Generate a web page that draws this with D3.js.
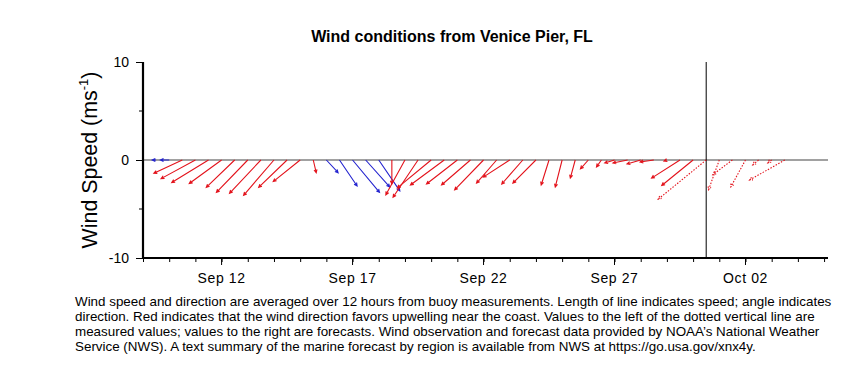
<!DOCTYPE html>
<html>
<head>
<meta charset="utf-8">
<script src="https://cdn.jsdelivr.net/npm/d3@7"></script>
<style>
  body { margin: 0; background: #fff; }
  svg { display: block; font-family: "Liberation Sans", Arial, sans-serif; }
</style>
</head>
<body>
<svg id="chart" width="853" height="375"></svg>
<script>
// wind sticks every 12 hours (UTC), u/v in m/s
const times = [
  "2023-09-09T12", "2023-09-10T00", "2023-09-10T12", "2023-09-11T00", "2023-09-11T12",
  "2023-09-12T00", "2023-09-12T12", "2023-09-13T00", "2023-09-13T12", "2023-09-14T00",
  "2023-09-14T12", "2023-09-15T00", "2023-09-15T12", "2023-09-16T00", "2023-09-16T12",
  "2023-09-17T00", "2023-09-17T12", "2023-09-18T00", "2023-09-18T12", "2023-09-19T00",
  "2023-09-19T12", "2023-09-20T00", "2023-09-20T12", "2023-09-21T00", "2023-09-21T12",
  "2023-09-22T00", "2023-09-22T12", "2023-09-23T00", "2023-09-23T12", "2023-09-24T00",
  "2023-09-24T12", "2023-09-25T00", "2023-09-25T12", "2023-09-26T00", "2023-09-26T12",
  "2023-09-27T00", "2023-09-27T12", "2023-09-28T00", "2023-09-28T12", "2023-09-29T00",
  "2023-09-29T12", "2023-09-30T00",
  "2023-09-30T12", "2023-10-01T00", "2023-10-01T12", "2023-10-02T00", "2023-10-02T12",
  "2023-10-03T00", "2023-10-03T12"
];
const uWind = [
  -0.4, -0.9, -2.9, -3.5, -3.75, -3.3, -2.9, -3.2, -3.2, -3.1,
  -2.9, -2.75, 0.3, 1.2, 1.8, 2.75, 2.45, 2.15, 0.0, -1.95,
  -2.55, -3.45, -3.45, -3.15, -2.95, -2.95, -2.05, -2.7, -2.15, -2.35,
  -0.8, -0.7, -0.5, -0.8, -0.5, -1.0, -1.5, -1.4, -1.4, -0.3,
  -2.9, -3.2,
  -4.9, -1.1, -2.0, -1.5, -0.6, -0.4, -3.6
];
const vWind = [
  0.0, 0.0, -1.36, -1.9, -2.3, -2.4, -2.8, -3.3, -3.4, -3.6,
  -2.8, -2.2, -1.3, -1.3, -2.65, -3.3, -2.75, -3.15, -2.45, -3.55,
  -3.8, -2.85, -2.55, -2.45, -2.55, -3.05, -2.35, -1.75, -2.45, -2.35,
  -2.55, -2.75, -1.85, -0.9, -0.7, -0.3, -0.3, -0.4, -0.2, -0.1,
  -1.85, -2.6,
  -4.0, -3.05, -1.5, -2.75, -0.5, -0.3, -2.05
];
// "u" = upwelling favourable (red), "d" = not (blue)
const kind = [
  "d", "d", "u", "u", "u", "u", "u", "u", "u", "u",
  "u", "u", "u", "d", "d", "d", "d", "d", "u", "u",
  "u", "u", "u", "u", "u", "u", "u", "u", "u", "u",
  "u", "u", "u", "u", "u", "u", "u", "u", "u", "u",
  "u", "u",
  "u", "u", "u", "u", "u", "u", "u"
];
const nowTime = "2023-09-30T12";   // observations | forecasts
const yTicks = [-10, 0, 10];
const yMinor = [-5, 5];
const tickDates = ["2023-09-12", "2023-09-17", "2023-09-22", "2023-09-27", "2023-10-02"];

const title = "Wind conditions from Venice Pier, FL";
const caption = [
  "Wind speed and direction are averaged over 12 hours from buoy measurements. Length of line indicates speed; angle indicates",
  "direction. Red indicates that the wind direction favors upwelling near the coast. Values to the left of the dotted vertical line are",
  "measured values; values to the right are forecasts. Wind observation and forecast data provided by NOAA\u2019s National Weather",
  "Service (NWS). A text summary of the marine forecast by region is available from NWS at https://go.usa.gov/xnx4y."
];

const parse = s => new Date(s.length > 10 ? s + ":00:00Z" : s + "T00:00:00Z");
const data = times.map((t, i) => ({
  t: parse(t), u: uWind[i], v: vWind[i], k: kind[i],
  fc: parse(t) >= parse(nowTime)
}));

const svg = d3.select("#chart");
const pLeft = 143, pRight = 828, pTop = 62, pBottom = 258;

const x = d3.scaleUtc()
  .domain([parse("2023-09-09"), new Date(Date.UTC(2023, 9, 5, 3, 36))])
  .range([pLeft, pRight]);
const y = d3.scaleLinear().domain([-10, 10]).range([pBottom, pTop]);
const ms = y(0) - y(1);  // pixels per m/s, same on both axes

svg.append("text")
  .attr("x", 452).attr("y", 42)
  .attr("text-anchor", "middle")
  .attr("font-size", 16).attr("font-weight", "bold")
  .text(title);

// zero line
svg.append("line")
  .attr("x1", pLeft).attr("x2", pRight)
  .attr("y1", y(0)).attr("y2", y(0))
  .attr("stroke", "#444").attr("stroke-width", 1.2);

// observation / forecast divider
svg.append("line")
  .attr("x1", x(parse(nowTime))).attr("x2", x(parse(nowTime)))
  .attr("y1", pTop).attr("y2", pBottom)
  .attr("stroke", "#000").attr("stroke-width", 1);

// sticks
const colors = { u: "#e3121b", d: "#2323cf" };
function stick(d) {
  const x0 = x(d.t), y0 = y(0);
  const x1 = x0 + d.u * ms, y1 = y0 - d.v * ms;
  const ang = Math.atan2(y1 - y0, x1 - x0);
  const h = 3.5, a = 0.45;
  const ax = x1 - h * Math.cos(ang - a), ay = y1 - h * Math.sin(ang - a);
  const bx = x1 - h * Math.cos(ang + a), by = y1 - h * Math.sin(ang + a);
  return `M${x0},${y0}L${x1},${y1}M${ax},${ay}L${x1},${y1}L${bx},${by}`;
}
svg.append("g").selectAll("path").data(data).join("path")
  .attr("d", stick)
  .attr("fill", "none")
  .attr("stroke", d => colors[d.k])
  .attr("stroke-width", 1.1)
  .attr("stroke-dasharray", d => d.fc ? "1.5,1.5" : null);

// axes
const xAxis = svg.append("g").attr("transform", `translate(0,${pBottom})`);
xAxis.call(d3.axisBottom(x).ticks(d3.utcDay.every(1)).tickSize(4).tickFormat(""));
xAxis.selectAll(".major").data(tickDates.map(parse)).join("line")
  .attr("class", "major")
  .attr("x1", d => x(d)).attr("x2", d => x(d))
  .attr("y1", 0).attr("y2", 7).attr("stroke", "#000");
xAxis.selectAll(".lbl").data(tickDates.map(parse)).join("text")
  .attr("class", "lbl")
  .attr("x", d => x(d)).attr("y", 25)
  .attr("text-anchor", "middle")
  .attr("font-size", 14).attr("letter-spacing", 0.6)
  .attr("fill", "#000")
  .text(d3.utcFormat("%b %d"));
xAxis.select(".domain").attr("stroke-width", 2.2).attr("d", `M${pLeft},0H${pRight}`);

const yAxis = svg.append("g").attr("transform", `translate(${pLeft},0)`);
yAxis.call(d3.axisLeft(y).tickValues(yTicks).tickSize(7).tickFormat(d => String(d)));
yAxis.selectAll("text").attr("font-size", 14).attr("font-family", "Liberation Sans, Arial, sans-serif")
  .attr("x", -14).attr("fill", "#000");
yAxis.selectAll(".minor").data(yMinor).join("line")
  .attr("class", "minor")
  .attr("x1", -4).attr("x2", 0)
  .attr("y1", d => y(d)).attr("y2", d => y(d))
  .attr("stroke", "#000");
yAxis.select(".domain").attr("stroke-width", 2.2).attr("d", `M0,${pTop}V${pBottom}`);

// y label
const yl = svg.append("text")
  .attr("transform", `translate(97,160) rotate(-90)`)
  .attr("text-anchor", "middle")
  .attr("font-size", 21.4);
yl.append("tspan").text("Wind Speed (ms");
yl.append("tspan").attr("font-size", 13).attr("dy", -9).text("-1");
yl.append("tspan").attr("dy", 9).text(")");

// caption
svg.append("g").selectAll("text").data(caption).join("text")
  .attr("x", 75).attr("y", (d, i) => 306 + i * 15)
  .attr("font-size", 13.4)
  .text(d => d);
</script>
</body>
</html>
